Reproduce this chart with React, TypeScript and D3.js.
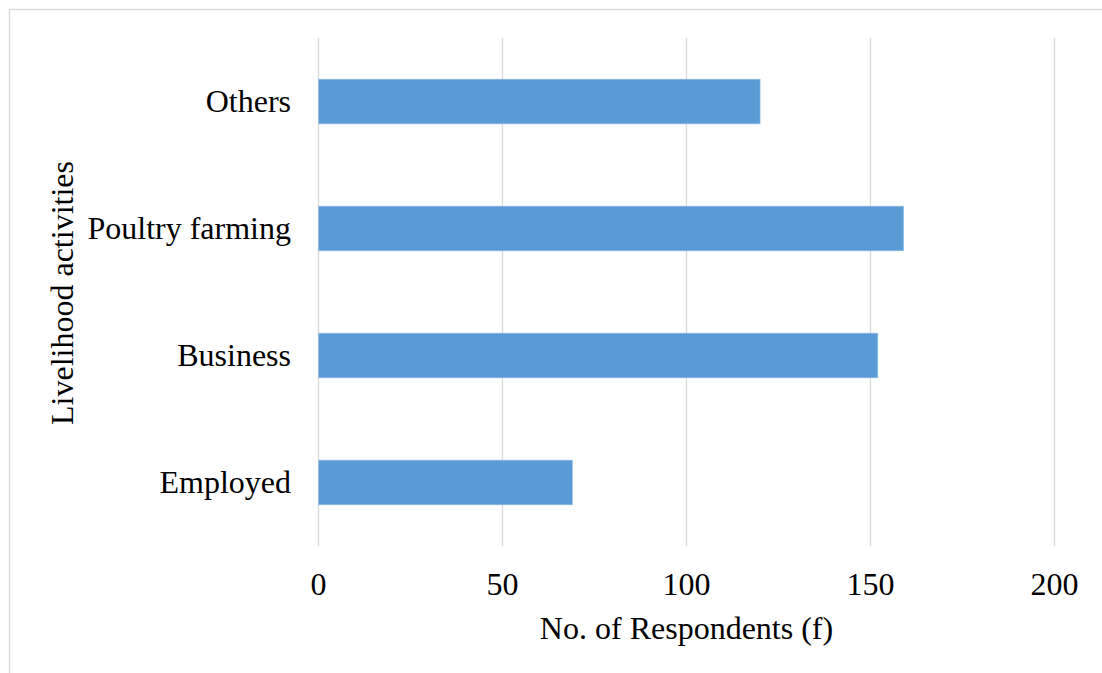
import { useEffect, useRef } from "react";
import * as d3 from "d3";

const CATEGORIES = ["Others", "Poultry farming", "Business", "Employed"];
const RESPONDENTS = [120, 159, 152, 69];
const X_TICKS = [0, 50, 100, 150, 200];
const X_TITLE = "No. of Respondents (f)";
const Y_TITLE = "Livelihood activities";

const W = 1102;
const H = 673;
const FONT = "'Liberation Serif', 'Times New Roman', serif";
const FONT_SIZE = 32;

export default function App() {
  const svgRef = useRef<SVGSVGElement>(null);

  useEffect(() => {
    if (!svgRef.current) return;
    const svg = d3.select(svgRef.current);
    svg.selectAll("*").remove();

    const margin = { top: 38, right: 47.5, bottom: 127, left: 318.5 };
    const w = W - margin.left - margin.right;
    const h = H - margin.top - margin.bottom;

    svg.append("rect")
      .attr("width", W).attr("height", H).attr("fill", "#fff");

    // chart area border (runs off the right and bottom edge)
    svg.append("rect")
      .attr("x", 9.5).attr("y", 9.5)
      .attr("width", W + 50).attr("height", H + 50)
      .attr("fill", "none").attr("stroke", "#d9d9d9").attr("stroke-width", 1.3);

    const g = svg.append("g").attr("transform", `translate(${margin.left},${margin.top})`);

    const x = d3.scaleLinear().domain([0, 200]).range([0, w]);
    const y = d3.scaleBand<string>()
      .domain(CATEGORIES)
      .range([0, h])
      .paddingInner(0.648)
      .paddingOuter(0.324);

    // vertical gridlines
    g.selectAll("line.grid")
      .data(X_TICKS)
      .join("line")
      .attr("class", "grid")
      .attr("x1", d => x(d)).attr("x2", d => x(d))
      .attr("y1", 0).attr("y2", h)
      .attr("stroke", "#d9d9d9").attr("stroke-width", 1.3);

    // bars
    g.selectAll("rect.bar")
      .data(CATEGORIES)
      .join("rect")
      .attr("class", "bar")
      .attr("x", x(0))
      .attr("y", d => y(d) ?? 0)
      .attr("width", (_, i) => x(RESPONDENTS[i]) - x(0))
      .attr("height", y.bandwidth())
      .attr("fill", "#5b9bd5")
      .attr("stroke", "#9dc3e6").attr("stroke-width", 0.6);

    // category labels
    g.selectAll("text.cat")
      .data(CATEGORIES)
      .join("text")
      .attr("class", "cat")
      .attr("x", -27.5)
      .attr("y", d => (y(d) ?? 0) + y.bandwidth() / 2 + 10.5)
      .attr("text-anchor", "end")
      .attr("font-family", FONT).attr("font-size", FONT_SIZE)
      .attr("fill", "#000")
      .text(d => d);

    // x tick labels
    g.selectAll("text.tick")
      .data(X_TICKS)
      .join("text")
      .attr("class", "tick")
      .attr("x", d => x(d))
      .attr("y", h + 49)
      .attr("text-anchor", "middle")
      .attr("font-family", FONT).attr("font-size", FONT_SIZE)
      .attr("fill", "#000")
      .text(d => String(d));

    // axis titles
    g.append("text")
      .attr("x", w / 2).attr("y", h + 93)
      .attr("text-anchor", "middle")
      .attr("font-family", FONT).attr("font-size", FONT_SIZE)
      .attr("fill", "#000")
      .text(X_TITLE);

    svg.append("text")
      .attr("transform", `translate(73,293) rotate(-90)`)
      .attr("text-anchor", "middle")
      .attr("font-family", FONT).attr("font-size", FONT_SIZE)
      .attr("fill", "#000")
      .text(Y_TITLE);
  }, []);

  return (
    <div style={{ position: "fixed", left: 0, top: 0 }}>
      <svg ref={svgRef} width={W} height={H} style={{ display: "block" }} />
    </div>
  );
}
